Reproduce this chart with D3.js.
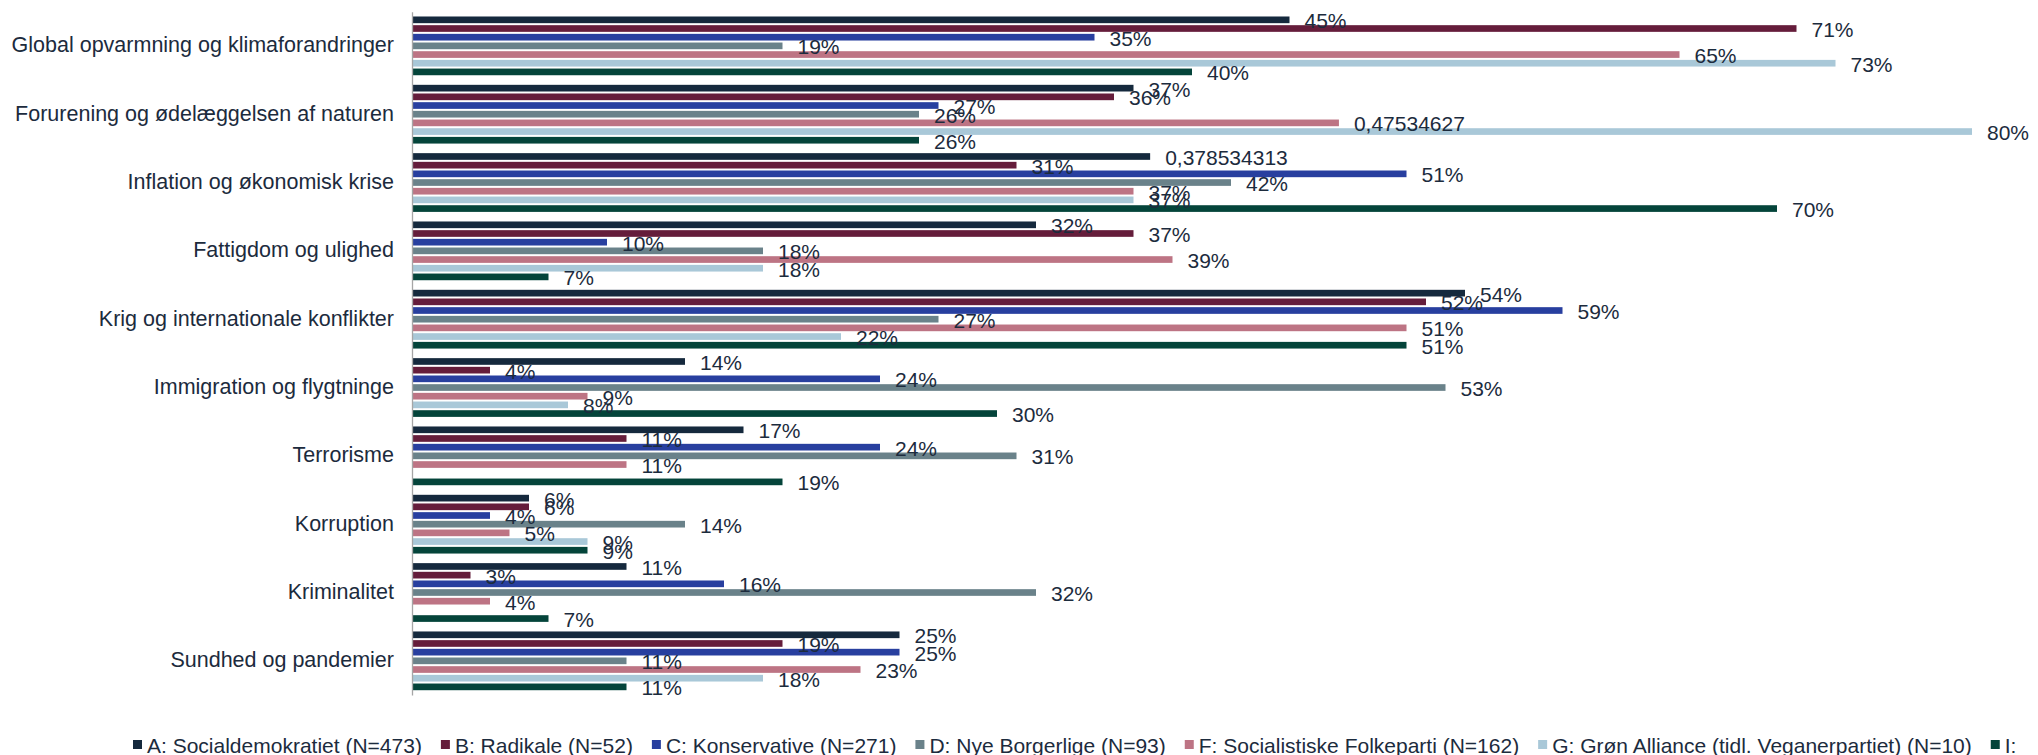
<!DOCTYPE html>
<html lang="da">
<head>
<meta charset="utf-8">
<script src="https://cdn.jsdelivr.net/npm/d3@7"></script>
<style>
  html, body { margin: 0; padding: 0; background: #ffffff; }
  svg { display: block; font-family: "Liberation Sans", Arial, sans-serif; }
</style>
</head>
<body>
<svg id="chart" width="2038" height="755"></svg>
<script>
// Issues ranked by voters of each party (share of respondents)
const categories = [
  "Global opvarmning og klimaforandringer",
  "Forurening og ødelæggelsen af naturen",
  "Inflation og økonomisk krise",
  "Fattigdom og ulighed",
  "Krig og internationale konflikter",
  "Immigration og flygtninge",
  "Terrorisme",
  "Korruption",
  "Kriminalitet",
  "Sundhed og pandemier"
];

const seriesKeys = ["A", "B", "C", "D", "F", "G", "I"];
const seriesNames = [
  "A: Socialdemokratiet (N=473)",
  "B: Radikale (N=52)",
  "C: Konservative (N=271)",
  "D: Nye Borgerlige (N=93)",
  "F: Socialistiske Folkeparti (N=162)",
  "G: Grøn Alliance (tidl. Veganerpartiet) (N=10)",
  "I:"
];
const seriesColors = ["#15293d", "#651d3b", "#283f9f", "#6a828a", "#bd7484", "#a9c8d8", "#04443a"];

const valuesA = [0.45, 0.37, 0.378534313, 0.32, 0.54, 0.14, 0.17, 0.06, 0.11, 0.25];
const valuesB = [0.71, 0.36, 0.31, 0.37, 0.52, 0.04, 0.11, 0.06, 0.03, 0.19];
const valuesC = [0.35, 0.27, 0.51, 0.10, 0.59, 0.24, 0.24, 0.04, 0.16, 0.25];
const valuesD = [0.19, 0.26, 0.42, 0.18, 0.27, 0.53, 0.31, 0.14, 0.32, 0.11];
const valuesF = [0.65, 0.47534627, 0.37, 0.39, 0.51, 0.09, 0.11, 0.05, 0.04, 0.23];
const valuesG = [0.73, 0.80, 0.37, 0.18, 0.22, 0.08, null, 0.09, null, 0.18];
const valuesI = [0.40, 0.26, 0.70, 0.07, 0.51, 0.30, 0.19, 0.09, 0.07, 0.11];

// Cells whose data label shows the raw cell value instead of a percentage
const rawLabelCells = [
  ["Forurening og ødelæggelsen af naturen", "F"],
  ["Inflation og økonomisk krise", "A"]
];

const seriesValues = [valuesA, valuesB, valuesC, valuesD, valuesF, valuesG, valuesI];

const rows = [];
categories.forEach((cat, ci) => {
  seriesKeys.forEach((key, si) => {
    const v = seriesValues[si][ci];
    if (v == null) return;
    rows.push({ cat, key, si, value: v });
  });
});

const svg = d3.select("#chart");
const textColor = "#1c2b3d";
const fontSize = 21;

const x = d3.scaleLinear().domain([0, 0.8]).range([412, 1972]);
const y = d3.scaleBand().domain(categories).range([11.7, 695])
  .paddingInner(0.111).paddingOuter(0.0555);
const ySub = d3.scaleBand().domain(seriesKeys).range([0, y.bandwidth()]);
const barH = ySub.bandwidth() - 2;

const pct = d3.format(".0%");
const isRaw = d => rawLabelCells.some(([c, k]) => c === d.cat && k === d.key);
const labelText = d => isRaw(d) ? String(d.value).replace(".", ",") : pct(d.value);

// bars
svg.append("g").selectAll("rect")
  .data(rows)
  .join("rect")
  .attr("x", x(0))
  .attr("y", d => y(d.cat) + ySub(d.key) + 1)
  .attr("width", d => x(d.value) - x(0))
  .attr("height", barH)
  .attr("fill", d => seriesColors[d.si]);

// data labels
svg.append("g").selectAll("text")
  .data(rows)
  .join("text")
  .attr("x", d => x(d.value) + 15)
  .attr("y", d => y(d.cat) + ySub(d.key) + ySub.bandwidth() / 2 + 8.5)
  .attr("font-size", fontSize)
  .attr("fill", textColor)
  .text(labelText);

// category axis
const axis = svg.append("g")
  .attr("transform", `translate(${x(0)},0)`)
  .call(d3.axisLeft(y).tickSize(0).tickPadding(18));
axis.select(".domain").attr("stroke", "#a6a6a6").attr("stroke-width", 1.3);
axis.selectAll(".tick text")
  .attr("font-size", 21.5)
  .attr("font-family", "'Liberation Sans', Arial, sans-serif")
  .attr("fill", textColor)
  .attr("dy", "0.3em");

// legend
const legend = svg.append("g").attr("transform", "translate(133,0)");
let lx = 0;
seriesNames.forEach((name, i) => {
  const item = legend.append("g").attr("transform", `translate(${lx},0)`);
  item.append("rect")
    .attr("x", 0).attr("y", 740)
    .attr("width", 9).attr("height", 9)
    .attr("fill", seriesColors[i]);
  const t = item.append("text")
    .attr("x", 14).attr("y", 752.5)
    .attr("font-size", fontSize)
    .attr("fill", textColor)
    .text(name);
  lx += 14 + t.node().getComputedTextLength() + 19;
});
</script>
</body>
</html>
